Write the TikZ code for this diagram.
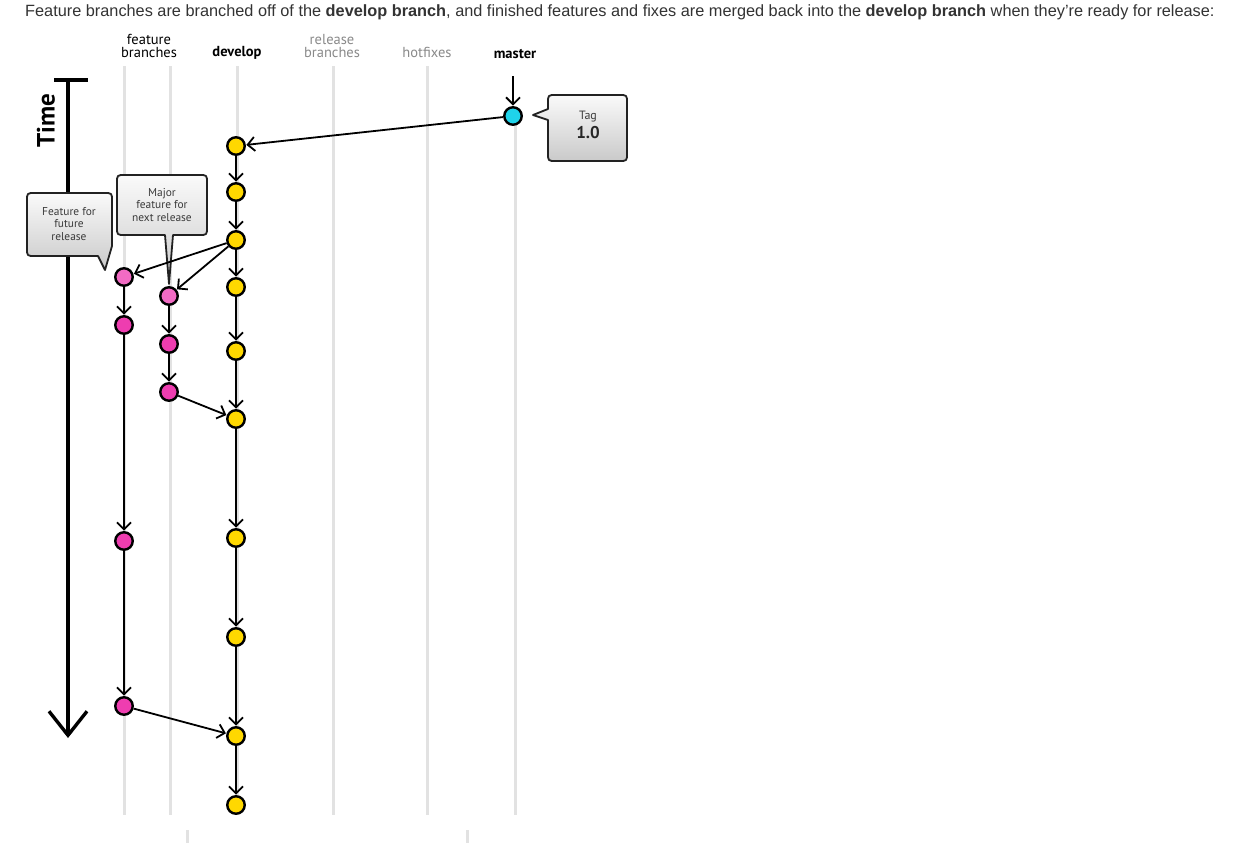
\documentclass[tikz,border=0pt]{standalone}
\usepackage{fontspec}
\setmainfont{Liberation Sans}
\newfontfamily\lab{PT Sans}
\usetikzlibrary{arrows.meta}
\definecolor{devyellow}{HTML}{FFD800}
\definecolor{featpink}{HTML}{F26BC4}
\definecolor{featmag}{HTML}{EE3DB0}
\definecolor{mastercyan}{HTML}{1FD3EA}
\definecolor{lanegray}{HTML}{E2E2E2}
\definecolor{toptext}{HTML}{333333}
\definecolor{ghost}{HTML}{8A8A8A}
\definecolor{calloutedge}{HTML}{222222}
\definecolor{callouttext}{HTML}{3A3A3A}
\tikzset{
  commit/.style={circle, draw=black, line width=2.4pt, minimum size=17.5pt, inner sep=0pt},
  devc/.style={commit, fill=devyellow},
  featc/.style={commit, fill=featmag},
  featl/.style={commit, fill=featpink},
  mastc/.style={commit, fill=mastercyan},
  flow/.style={line width=1.8pt, -{Straight Barb[length=7pt,width=14pt,line width=1.8pt]}, shorten >=0.5pt},
  lane/.style={line width=3pt, lanegray},
  callout/.style={draw=calloutedge, line width=1.8pt, top color=white!96!gray, bottom color=gray!42, line join=round},
  ctext/.style={font=\lab\fontsize{11.4}{12.5}\selectfont, text=callouttext, align=center, inner sep=0pt},
  head/.style={font=\lab\fontsize{14.5}{13}\selectfont, align=center, inner sep=0pt},
}
\begin{document}
\begin{tikzpicture}[x=1pt,y=-1pt]
\useasboundingbox[fill=white] (0,0) rectangle (1246,843);

% caption
\node[anchor=west, inner sep=0pt, text=toptext, font=\fontsize{16.3}{18}\selectfont] (caption) at (25,12)
 {Feature branches are branched off of the \textbf{develop branch}, and finished features and fixes are merged back into the \textbf{develop branch} when they're ready for release:};

% lanes
\draw[lane] (124,66) -- (124,815);
\draw[lane] (170,66) -- (170,815);
\draw[lane] (237,66) -- (237,815);
\draw[lane] (333,66) -- (333,815);
\draw[lane] (427,66) -- (427,815);
\draw[lane] (515,120) -- (515,815);
\draw[lane] (187,830) -- (187,843);
\draw[lane] (467,830) -- (467,843);

% headers
\node[head] (hfeat) at (149,46) {feature\\branches};
\node[head, font=\lab\bfseries\fontsize{14.5}{13}\selectfont] (hdev) at (237,53) {develop};
\node[head, text=ghost] (hrel) at (332,46) {release\\branches};
\node[head, text=ghost] (hhot) at (427,52) {hotfixes};
\node[head, font=\lab\bfseries\fontsize{14.5}{13}\selectfont] (hmas) at (515,54) {master};

% time axis
\coordinate (ttop) at (68,80);
\coordinate (tend) at (68,738);
\coordinate (tbl) at (54,80);
\coordinate (tbr) at (88,80);
\draw[line width=4pt] (tbl) -- (tbr);
\draw[line width=3.2pt, -{Straight Barb[length=24pt,width=38pt,line width=3.4pt]}] (ttop) -- (tend);
\node[rotate=90, font=\lab\bfseries\fontsize{25}{25}\selectfont, inner sep=0pt] (time) at (46,121) {Time};

% callouts
\draw[callout] (35,193) -- (104,193) .. controls (112,193) .. (112,201) -- (112,246) -- (105,270) -- (98,256) -- (35,256) .. controls (27,256) .. (27,248) -- (27,201) .. controls (27,193) .. (35,193) -- cycle;
\node[ctext] (cfut) at (69,224) {Feature for\\future\\release};

\draw[callout] (125,175) -- (199,175) .. controls (207,175) .. (207,183) -- (207,227) .. controls (207,235) .. (199,235) -- (173,235) -- (169,284) -- (165,235) -- (125,235) .. controls (117,235) .. (117,227) -- (117,183) .. controls (117,175) .. (125,175) -- cycle;
\node[ctext] (cmaj) at (162,205) {Major\\feature for\\next release};

\draw[callout] (556,95) -- (619,95) .. controls (627,95) .. (627,103) -- (627,153) .. controls (627,161) .. (619,161) -- (556,161) .. controls (548,161) .. (548,153) -- (548,120) -- (533,115) -- (548,109) -- (548,103) .. controls (548,95) .. (556,95) -- cycle;
\node[ctext, font=\lab\fontsize{12}{12}\selectfont] (ctag) at (588,117) {Tag};
\node[ctext, font=\lab\bfseries\fontsize{17}{17}\selectfont, text=black!85] (cver) at (588,133) {1.0};

% commits
\node[mastc] (m1) at (513,116) {};
\node[devc] (d1) at (236,146) {};
\node[devc] (d2) at (236,192) {};
\node[devc] (d3) at (236,240) {};
\node[devc] (d4) at (236,287) {};
\node[devc] (d5) at (236,351) {};
\node[devc] (d6) at (236,419) {};
\node[devc] (d7) at (236,538) {};
\node[devc] (d8) at (236,637) {};
\node[devc] (d9) at (236,736) {};
\node[devc] (d10) at (236,805) {};
\node[featl] (fa1) at (124,277) {};
\node[featc] (fa2) at (124,325) {};
\node[featc] (fa3) at (124,541) {};
\node[featc] (fa4) at (124,706) {};
\node[featl] (fb1) at (169,296) {};
\node[featc] (fb2) at (169,344) {};
\node[featc] (fb3) at (169,392) {};

% connectors
\coordinate (mtop) at (513,76);
\draw[flow] (mtop) -- (m1);
\draw[flow] (m1) -- (d1);
\draw[flow] (d1) -- (d2);
\draw[flow] (d2) -- (d3);
\draw[flow] (d3) -- (d4);
\draw[flow] (d4) -- (d5);
\draw[flow] (d5) -- (d6);
\draw[flow] (d6) -- (d7);
\draw[flow] (d7) -- (d8);
\draw[flow] (d8) -- (d9);
\draw[flow] (d9) -- (d10);
\draw[flow] (d3) -- (fa1);
\draw[flow] (d3) -- (fb1);
\draw[flow] (fa1) -- (fa2);
\draw[flow] (fa2) -- (fa3);
\draw[flow] (fa3) -- (fa4);
\draw[flow] (fb1) -- (fb2);
\draw[flow] (fb2) -- (fb3);
\draw[flow] (fb3) -- (d6);
\draw[flow] (fa4) -- (d9);
\end{tikzpicture}
\end{document}
